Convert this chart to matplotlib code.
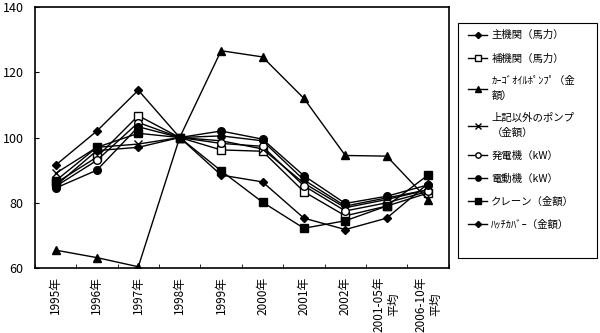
import numpy as np
import matplotlib
matplotlib.use('Agg')
import matplotlib.pyplot as plt
from matplotlib.patches import Rectangle
plt.rcParams['font.family'] = ['Noto Sans CJK JP', 'DejaVu Sans']
plt.rcParams['axes.unicode_minus'] = False

## データ
years = ['1995年', '1996年', '1997年', '1998年', '1999年', '2000年', '2001年', '2002年',
         '2001-05年\n平均', '2006-10年\n平均']

main_engine = [91.5, 102, 114.5, 100, 100.5, 99.0, 87.0, 79.0, 81.5, 84.0]
aux_engine = [86.0, 94.0, 106.7, 100, 96.2, 95.8, 83.4, 76.0, 79.0, 83.0]
cargo_pump = [65.5, 63.2, 60.4, 100, 126.6, 124.7, 112.0, 94.5, 94.3, 80.9]
other_pump = [89.0, 97.0, 98.0, 100, 99.0, 96.5, 86.0, 78.5, 81.0, 84.0]
generator = [85.0, 93.0, 104.6, 100, 98.2, 97.3, 85.2, 77.5, 80.0, 83.5]
motor = [84.5, 90.0, 103.3, 100, 102.0, 99.5, 88.3, 79.8, 82.0, 85.5]
crane = [86.7, 97.0, 101.3, 100, 89.8, 80.2, 72.2, 74.5, 79.0, 88.5]
hatch_cover = [85.2, 96.0, 97.0, 100, 88.5, 86.4, 75.3, 71.8, 75.3, 85.9]

labels = ['主機関（馬力）', '補機関（馬力）', 'ｶｰｺﾞｵｲﾙﾎﾟﾝﾌﾟ（金\n額）', '上記以外のポンプ\n（金額）',
          '発電機（kW）', '電動機（kW）', 'クレーン（金額）', 'ﾊｯﾁｶﾊﾞｰ（金額）']

series = [main_engine, aux_engine, cargo_pump, other_pump, generator, motor, crane, hatch_cover]
markers = [('D', 'k', 4.5), ('s', 'w', 5.5), ('^', 'k', 6), ('x', 'k', 6),
           ('o', 'w', 5.5), ('o', 'k', 5.5), ('s', 'k', 5.5), ('D', 'k', 4.5)]

fig = plt.figure(figsize=(6, 3.33), dpi=100)
ax = fig.add_axes([0.058, 0.195, 0.69, 0.784])

x = np.arange(len(years))
for vals, (m, fc, ms), lab in zip(series, markers, labels):
    ax.plot(x, vals, color='k', linewidth=1.0, marker=m, markersize=ms,
            markerfacecolor=fc, markeredgecolor='k', markeredgewidth=1.0, label=lab)

ax.set_xlim(-0.5, len(years) - 0.5)
ax.set_ylim(60, 140)
ax.set_yticks([60, 80, 100, 120, 140])
ax.set_xticks(x)
ax.set_xticklabels(years, rotation=90, fontsize=8.5, va='top', ha='center', multialignment='center')
ax.set_xticks(np.arange(len(years) + 1) - 0.5, minor=True)
ax.tick_params(axis='x', which='major', length=0, pad=6)
ax.tick_params(axis='x', which='minor', direction='in', length=3)
ax.tick_params(axis='y', direction='in', length=3, labelsize=9, pad=8)
for s in ax.spines.values():
    s.set_linewidth(1.2)

# 凡例(枠は別に描く)
fig.patches.append(Rectangle((0.763, 0.225), 0.232, 0.706, transform=fig.transFigure,
                             facecolor='none', edgecolor='k', linewidth=0.8))
leg = fig.legend(loc='upper left', bbox_to_anchor=(0.772, 0.925), fontsize=7.5,
                 frameon=False, handlelength=1.8, handletextpad=0.4,
                 labelspacing=1.25, borderpad=0, markerscale=0.7)
for t in leg.get_texts():
    t.set_linespacing(1.45)

fig.savefig('out.png', dpi=100)
